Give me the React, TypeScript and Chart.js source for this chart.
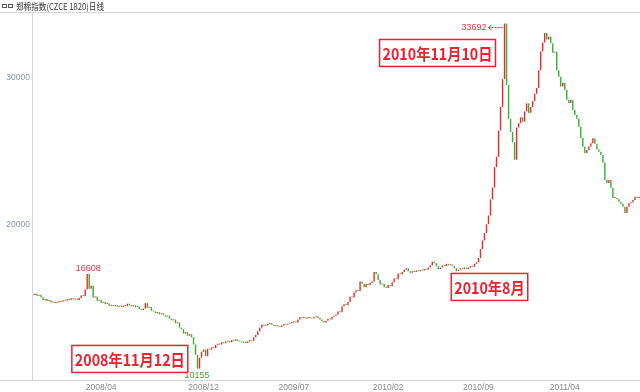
import React, { useEffect, useRef } from "react";
import { Chart, registerables } from "chart.js";
Chart.register(...registerables);

// Daily close of the Zhengzhou cotton index (one value per ~2px)
const closes = [
  15180, 15260, 15120, 15200, 15020, 14820, 14900, 14760, 14820, 14660,
  14700, 14620, 14690, 14760, 14720, 14820, 14780, 14880, 14830, 14950,
  14870, 14920, 14830, 14980, 15150, 15100, 15550, 16608, 15600, 15800,
  15000, 15080, 14780, 14850, 14650, 14700, 14560, 14600, 14450, 14500,
  14420, 14480, 14380, 14440, 14360, 14450, 14420, 14580, 14480, 14400,
  14480, 14350, 14400, 14220, 14150, 14250, 14620, 14300, 14350, 14100,
  14050, 13950, 14000, 13860, 13920, 13800, 13700, 13760, 13560, 13450,
  13500, 13250, 13300, 12950, 12850, 12550, 12650, 12400, 12500, 12300,
  11800, 11100, 10155, 10900, 11300, 11450, 11000, 11500, 11450, 11600,
  11550, 11770, 11850, 11800, 11950, 11880, 12000, 12050, 11950, 12100,
  12050, 12150, 12050, 12000, 11920, 11980, 11900, 12000, 12100, 12050,
  12300, 12450, 12700, 12950, 13150, 13080, 13120, 13200, 13250, 13150,
  13080, 13120, 13050, 13000, 13100, 13200, 13150, 13220, 13260, 13300,
  13350, 13300, 13500, 13650, 13600, 13640, 13580, 13650, 13600, 13580,
  13650, 13720, 13600, 13500, 13400, 13300, 13420, 13550, 13500, 13700,
  13750, 13850, 14050, 14000, 14400, 14550, 14500, 14700, 15050, 15000,
  15350, 15500, 15450, 16100, 15950, 15700, 15950, 15850, 16000, 16100,
  16750, 16600, 16200, 15900, 15950, 15700, 15650, 15850, 15780, 16050,
  16300, 16250, 16650, 16600, 16750, 16900, 17000, 16800, 16700, 16800,
  16750, 16850, 16800, 16880, 16850, 16950, 16900, 17050, 17200, 17450,
  17350, 17150, 16950, 17050, 17200, 17150, 17300, 17200, 17250, 17150,
  17000, 16800, 16900, 17000, 16950, 17050, 16950, 17050, 17150, 17100,
  17300, 17400, 17700, 18300, 18900, 19400, 20000, 20600, 21700, 22500,
  23900, 24600, 26400, 28000, 29900, 33692, 29500, 27200, 26300, 25600,
  24400, 26600, 26900, 27300, 27000, 27700, 28250, 27600, 28000, 28400,
  28900, 29300, 30500, 31800, 32400, 33050, 32600, 32800, 32350, 31700,
  31770, 30500, 30070, 29390, 29640, 29160, 28500, 28275, 28480, 27800,
  27460, 27200, 26660, 25890, 25290, 24870, 25070, 25300, 25530, 25870,
  25500, 25100, 24950, 24730, 24200, 23020, 22820, 23020, 22500, 21800,
  21800, 21700, 21540, 21400, 21200, 20770, 21200, 21430, 21500, 21650,
  21880, 21800, 21880,
];

const tickIndex = [34, 85, 130, 177, 222, 265];
const tickText = ["2008/04", "2008/12", "2009/07", "2010/02", "2010/09", "2011/04"];
const yTicks = [20000, 30000];

const markIndex = [27, 82, 235];

const noteText = ["2008年11月12日", "2010年11月10日", "2010年8月"];
const noteIndex = [48.25, 201.6, 227.5];
const noteValue = [10815, 31685, 15726];

const title = "郑棉指数(CZCE 1820)日线";

const UP = "rgba(240,0,0,0.85)";
const DOWN = "rgba(0,155,0,0.8)";

export default function App() {
  const ref = useRef<HTMLCanvasElement | null>(null);

  useEffect(() => {
    const canvas = ref.current;
    if (!canvas) return;
    const labels = closes.map((_, i) => String(i));
    const bodies = closes.map((c, i) => [i === 0 ? c : closes[i - 1], c]);
    const colors = closes.map((c, i) => (i === 0 || c >= closes[i - 1] ? UP : DOWN));

    const overlay = {
      id: "overlay",
      afterDraw(chart: any) {
        const { ctx, chartArea, scales } = chart;
        const x = scales.x;
        const y = scales.y;
        const W = chart.width;
        ctx.save();
        // frame lines
        ctx.strokeStyle = "#d6d6d6";
        ctx.lineWidth = 1;
        ctx.beginPath();
        ctx.moveTo(0, chartArea.top + 0.5);
        ctx.lineTo(W, chartArea.top + 0.5);
        ctx.moveTo(0, chartArea.bottom - 0.5);
        ctx.lineTo(W, chartArea.bottom - 0.5);
        ctx.moveTo(chartArea.left + 0.5, chartArea.top);
        ctx.lineTo(chartArea.left + 0.5, chartArea.bottom);
        ctx.stroke();

        // title
        ctx.strokeStyle = "#555";
        ctx.strokeRect(2.5, 4.5, 4, 3);
        ctx.strokeRect(8.5, 4.5, 4, 3);
        ctx.fillStyle = "#333";
        ctx.font = '9px "Noto Sans CJK SC", sans-serif';
        ctx.textAlign = "left";
        ctx.textBaseline = "middle";
        ctx.fillText(title, 16, 6.5, 88);

        // extreme marks
        let maxI = 0;
        let minI = 0;
        closes.forEach((c, i) => {
          if (c > closes[maxI]) maxI = i;
          if (c < closes[minI]) minI = i;
        });
        ctx.font = '9px "Liberation Sans", Arial, sans-serif';
        markIndex.forEach((i) => {
          const v = closes[i];
          const px = x.getPixelForValue(i);
          const py = y.getPixelForValue(v);
          if (i === minI) {
            ctx.fillStyle = "#3aa83a";
            ctx.textAlign = "center";
            ctx.textBaseline = "middle";
            ctx.fillText(String(v), px - 0.5, py + 7);
          } else if (i === maxI) {
            ctx.fillStyle = "#ee3344";
            ctx.strokeStyle = "#ee3344";
            ctx.textAlign = "right";
            ctx.textBaseline = "middle";
            const ty = py + 3.5;
            ctx.fillText(String(v), px - 18, ty);
            ctx.setLineDash([2, 1]);
            ctx.beginPath();
            ctx.moveTo(px - 16, ty + 0.5);
            ctx.lineTo(px - 1, ty + 0.5);
            ctx.stroke();
            ctx.setLineDash([]);
            ctx.beginPath();
            ctx.moveTo(px - 13, ty - 2);
            ctx.lineTo(px - 16, ty + 0.5);
            ctx.lineTo(px - 13, ty + 3);
            ctx.stroke();
          } else {
            ctx.fillStyle = "#ee3344";
            ctx.textAlign = "center";
            ctx.textBaseline = "middle";
            ctx.fillText(String(v), px + 1, py - 5.5);
          }
        });

        // annotation boxes
        ctx.font = 'bold 16px "Noto Sans CJK SC", sans-serif';
        const sx = 0.89;
        noteText.forEach((t, k) => {
          const cx = x.getPixelForValue(noteIndex[k]);
          const cy = y.getPixelForValue(noteValue[k]);
          const tw = ctx.measureText(t).width * sx;
          const bw = tw + 6;
          const bh = 27;
          ctx.fillStyle = "#ffffff";
          ctx.fillRect(cx - bw / 2, cy - bh / 2, bw, bh);
          ctx.strokeStyle = "#ea2330";
          ctx.lineWidth = 1.5;
          ctx.strokeRect(cx - bw / 2, cy - bh / 2, bw, bh);
          ctx.fillStyle = "#ea2330";
          ctx.textAlign = "center";
          ctx.textBaseline = "middle";
          ctx.save();
          ctx.translate(cx, cy + 1);
          ctx.scale(sx, 1);
          ctx.fillText(t, 0, 0);
          ctx.restore();
        });
        ctx.restore();
      },
    };

    const chart = new Chart(canvas, {
      type: "bar",
      data: {
        labels,
        datasets: [
          {
            data: bodies as any,
            backgroundColor: colors,
            borderWidth: 0,
            barPercentage: 0.7,
            categoryPercentage: 1,
            minBarLength: 1,
          },
        ],
      },
      options: {
        responsive: false,
        animation: false,
        layout: { padding: { top: 12, left: 0, right: 0, bottom: 0 } },
        plugins: { legend: { display: false }, tooltip: { enabled: false } },
        scales: {
          x: {
            type: "category",
            grid: { display: false, drawTicks: false },
            border: { display: false },
            afterFit(axis: any) {
              axis.height = 11;
            },
            afterBuildTicks(axis: any) {
              axis.ticks = tickIndex.map((v) => ({ value: v }));
            },
            ticks: {
              autoSkip: false,
              maxRotation: 0,
              padding: 1.5,
              color: "#8a8a8a",
              font: { size: 8.5, family: '"Liberation Sans", Arial, sans-serif' },
              callback: (value: any) => {
                const k = tickIndex.indexOf(Number(value));
                return k >= 0 ? tickText[k] : "";
              },
            },
          },
          y: {
            min: 9310,
            max: 34480,
            grid: { display: false, drawTicks: false },
            border: { display: false },
            afterFit(axis: any) {
              axis.width = 32;
            },
            afterBuildTicks(axis: any) {
              axis.ticks = yTicks.map((v) => ({ value: v }));
            },
            ticks: {
              padding: 2,
              color: "#8595a8",
              font: { size: 8.5, family: '"Liberation Sans", Arial, sans-serif' },
              callback: (value: any) => String(value),
            },
          },
        },
      },
      plugins: [overlay],
    });
    return () => chart.destroy();
  }, []);

  return (
    <div style={{ position: "fixed", left: 0, top: 0, width: 640, height: 392, background: "#fff" }}>
      <canvas ref={ref} width={640} height={392} style={{ width: 640, height: 392 }} />
    </div>
  );
}
